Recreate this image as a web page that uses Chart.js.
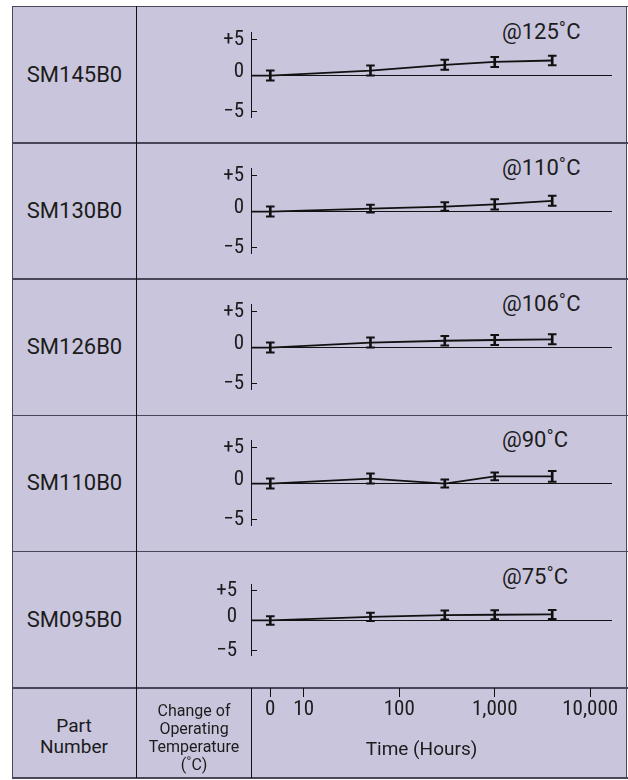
<!DOCTYPE html>
<html><head><meta charset="utf-8">
<script src="https://cdn.jsdelivr.net/npm/chart.js@4.4.1/dist/chart.umd.min.js"></script>
<style>
html,body{margin:0;padding:0;background:#fff;}
#wrap{position:relative;width:628px;height:780px;overflow:hidden;font-family:Roboto,sans-serif;color:#1c1c1c;}
.abs{position:absolute;}
.bg{left:12px;top:6px;width:615px;height:772px;background:#c9c5dc;}
.hl{left:12px;width:615.5px;height:1.5px;background:#474757;}
.vl{width:1.5px;background:#474757;}
.cl{width:1px;background:#111;}
.part{left:13px;width:123px;height:136px;display:flex;align-items:center;justify-content:center;font-size:22px;line-height:22px;}
.temp{left:502px;font-size:22px;line-height:22px;white-space:nowrap;}
.cv{left:137px;width:489px;}
</style>
</head><body>
<div id="wrap">
  <div class="abs bg"></div>
</div>
<script>
// ---------- data ----------
const partNumbers = ['SM145B0', 'SM130B0', 'SM126B0', 'SM110B0', 'SM095B0'];
const tempLabels  = ['@125˚C', '@110˚C', '@106˚C', '@90˚C', '@75˚C'];
const hours = [0, 50, 300, 1000, 4000];

const change125 = [0, 0.7, 1.5, 1.9, 2.1];
const error125  = [0.7, 0.7, 0.7, 0.7, 0.65];
const change110 = [0, 0.4, 0.7, 1.0, 1.5];
const error110  = [0.7, 0.55, 0.6, 0.7, 0.7];
const change106 = [0, 0.7, 0.95, 1.05, 1.15];
const error106  = [0.7, 0.7, 0.65, 0.7, 0.7];
const change90  = [0, 0.7, 0, 1.0, 1.0];
const error90   = [0.7, 0.7, 0.55, 0.55, 0.75];
const change75  = [0, 0.6, 0.9, 0.95, 1.0];
const error75   = [0.7, 0.7, 0.75, 0.75, 0.75];

const seriesValues = [change125, change110, change106, change90, change75];
const seriesErrors = [error125, error110, error106, error90, error75];

const xTickHours  = [0, 10, 100, 1000, 10000];
const xTickLabels = ['0', '10', '100', '1,000', '10,000'];
const yTickValues = [-5, 0, 5];
const yTickLabels = ['−5', '0', '+5'];

const bottomLabel1 = ['Part', 'Number'];
const bottomLabel2 = ['Change of', 'Operating', 'Temperature', '(˚C)'];
const xTitle = 'Time (Hours)';

// ---------- layout constants ----------
const ROW0 = 6.5, ROW_H = 136.3;
const ZERO_U = 0.65;            // where "0 hours" sits on the log-decade axis
const X_MIN = 0.448, X_MAX = 4.228, X_MAX_BOTTOM = 4.019;
const Y_MIN = -5.85, Y_MAX = 6.0;
const YW = 90;
const NARROW = "'Liberation Sans Narrow', 'Roboto Condensed', 'DejaVu Sans Condensed', sans-serif";
const INK = '#111';
const pos = h => h === 0 ? ZERO_U : Math.log10(h);

const wrap = document.getElementById('wrap');
function el(cls, style, html) {
  const d = document.createElement('div');
  d.className = 'abs ' + cls;
  Object.assign(d.style, style || {});
  if (html !== undefined) d.innerHTML = html;
  wrap.appendChild(d);
  return d;
}

// table lines
for (let k = 0; k <= 5; k++) el('hl', {top: (ROW0 + ROW_H * k - 0.75) + 'px'});
el('hl', {top: '777px'});
el('vl', {left: '11.75px', top: '6px', height: '772px'});
el('vl', {left: '625.75px', top: '6px', height: '772px'});
el('cl', {left: '136px', top: '6px', height: '772px'});
el('cl', {left: '251px', top: (ROW0 + ROW_H * 5) + 'px', height: (778 - ROW0 - ROW_H * 5) + 'px'});

Chart.defaults.animation = false;
Chart.defaults.events = [];

partNumbers.forEach((pn, k) => {
  const rowTop = ROW0 + ROW_H * k;
  el('part', {top: rowTop + 'px'}, pn);
  el('temp', {top: (rowTop + 32.5 - 18.5) + 'px'}, tempLabels[k]);

  const divTop = Math.round(rowTop);
  const box = el('cv', {top: divTop + 'px', height: '136px'});
  const cv = document.createElement('canvas');
  box.appendChild(cv);

  const vals = seriesValues[k], errs = seriesErrors[k];
  const linePts = [{x: X_MIN, y: 0}].concat(hours.map((h, i) => ({x: pos(h), y: vals[i]})));
  const stems = hours.map((h, i) => ({x: pos(h), y: [vals[i] - errs[i], vals[i] + errs[i]]}));
  const caps = hours.map((h, i) => ({x: pos(h), y: vals[i] + errs[i]}))
    .concat(hours.map((h, i) => ({x: pos(h), y: vals[i] - errs[i]})));

  new Chart(cv, {
    type: 'line',
    data: {datasets: [
      {type: 'line', data: linePts, borderColor: INK, borderWidth: 1.8, pointRadius: 0, tension: 0, fill: false},
      {type: 'bar', data: stems, backgroundColor: INK, borderWidth: 0, barThickness: 2},
      {type: 'line', data: caps, showLine: false, pointStyle: 'line', pointRadius: 4.3,
       pointBorderWidth: 2, pointBorderColor: INK, pointBackgroundColor: INK}
    ]},
    options: {
      responsive: true, maintainAspectRatio: false,
      layout: {padding: {left: 251 - 137 - YW, right: 14,
        top: rowTop + 20.9 - divTop, bottom: divTop + 136 - (rowTop + 118.7)}},
      plugins: {legend: {display: false}, tooltip: {enabled: false}},
      scales: {
        x: {type: 'linear', display: false, min: X_MIN, max: X_MAX, offset: false},
        y: {
          type: 'linear', min: Y_MIN, max: Y_MAX,
          afterBuildTicks: s => { s.ticks = yTickValues.map(v => ({value: v})); },
          afterFit: s => { s.width = YW; },
          border: {display: true, color: INK, width: 1},
          grid: {
            drawTicks: true, tickLength: -6, lineWidth: 1,
            color: c => (c.tick && c.tick.value === 0) ? INK : 'rgba(0,0,0,0)',
            tickColor: c => (c.tick && c.tick.value === 0) ? 'rgba(0,0,0,0)' : INK
          },
          ticks: {
            padding: k === 4 ? 20 : 13, color: '#1c1c1c',
            font: c => ({family: NARROW, size: 21, lineHeight: (c.tick && c.tick.value === 0) ? 0.36 : 1.2}),
            callback: (v, i) => v === 0 ? [yTickLabels[i], ''] : yTickLabels[i]
          }
        }
      }
    }
  });
});

// bottom row
const bTop = ROW0 + ROW_H * 5;
el('', {left: '12px', width: '124px', top: '714.5px', textAlign: 'center', fontSize: '19px', lineHeight: '21.5px'},
   bottomLabel1.join('<br>'));
el('', {left: '137px', width: '114px', top: '701.5px', textAlign: 'center', fontSize: '16px', lineHeight: '18px'},
   bottomLabel2.join('<br>'));

const bbox = el('cv', {top: '681px', height: '97px'});
const bcv = document.createElement('canvas');
bbox.appendChild(bcv);
new Chart(bcv, {
  type: 'line',
  data: {datasets: []},
  options: {
    responsive: true, maintainAspectRatio: false,
    layout: {padding: {left: 114, right: 34, top: 0, bottom: 0}},
    plugins: {legend: {display: false}, tooltip: {enabled: false}},
    scales: {
      x: {
        type: 'linear', position: 'bottom', min: X_MIN, max: X_MAX_BOTTOM,
        afterBuildTicks: s => { s.ticks = xTickHours.map(h => ({value: pos(h)})); },
        afterFit: s => { s.height = 97 - (bTop - 681); },
        border: {display: false},
        grid: {drawOnChartArea: false, drawTicks: true, tickLength: 9, color: INK, lineWidth: 1},
        ticks: {padding: 0, maxRotation: 0, autoSkip: false, color: '#1c1c1c',
          font: {family: NARROW, size: 21}, callback: (v, i) => xTickLabels[i]},
        title: {display: true, text: xTitle, color: '#1c1c1c',
          font: {family: 'Roboto', size: 19}, padding: {top: 0, bottom: 16}}
      },
      y: {display: false, min: 0, max: 1}
    }
  }
});
</script>
</body></html>
